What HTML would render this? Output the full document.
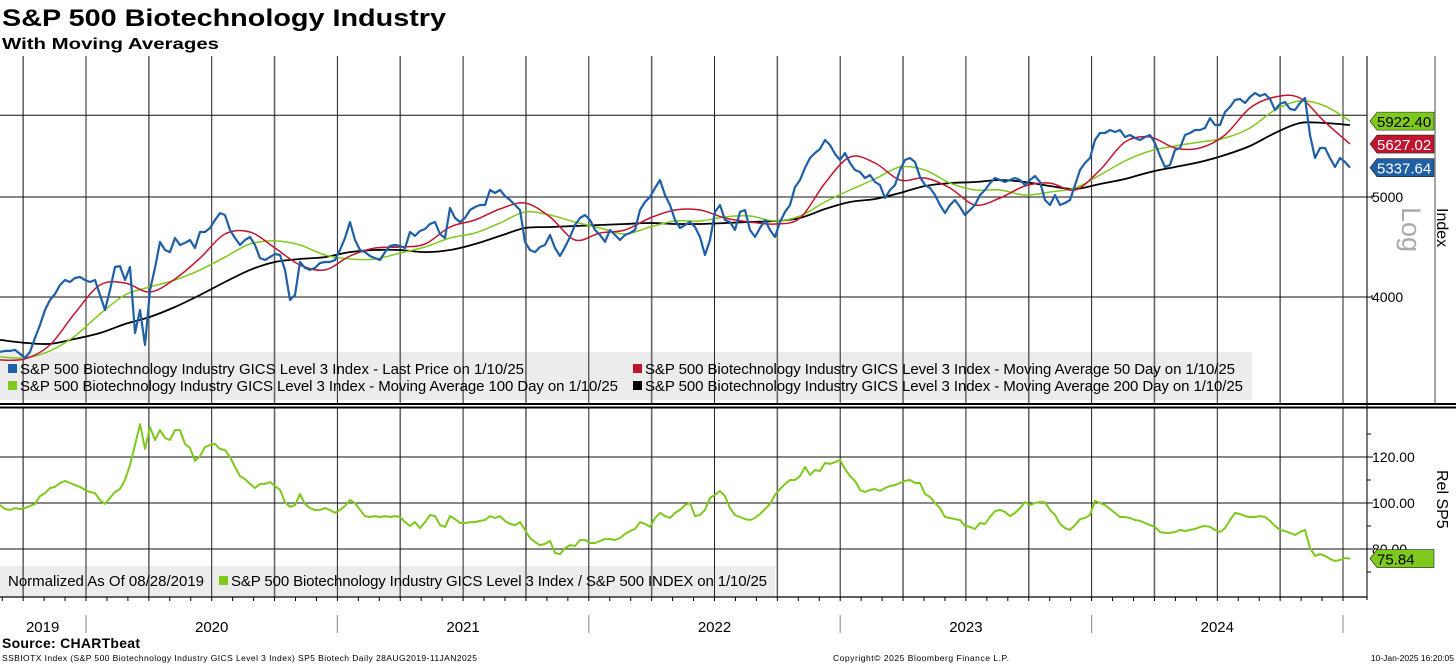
<!DOCTYPE html>
<html><head><meta charset="utf-8"><style>
html,body{margin:0;padding:0;background:#fff;}
svg{display:block;font-family:"Liberation Sans",Tahoma,sans-serif;}
</style></head><body>
<svg id="chart" width="1456" height="665" viewBox="0 0 1456 665" xmlns="http://www.w3.org/2000/svg">
<text x="2" y="26" font-size="24" font-weight="bold" fill="#000" textLength="444" lengthAdjust="spacingAndGlyphs">S&amp;P 500 Biotechnology Industry</text>
<text x="2" y="49" font-size="16" font-weight="bold" fill="#000" textLength="217" lengthAdjust="spacingAndGlyphs">With Moving Averages</text>
<rect x="0" y="352" width="1252" height="48" fill="#ececec"/>
<rect x="0" y="566" width="775" height="30" fill="#ececec"/>
<g id="grid"></g>
<g id="topPanel"></g>
<g id="botPanel"></g>
<g id="axes"></g>
<rect x="8" y="364" width="9" height="9" fill="#1f5fa6"/>
<text x="20" y="374" font-size="15" textLength="504">S&amp;P 500 Biotechnology Industry GICS Level 3 Index - Last Price on 1/10/25</text>
<rect x="633" y="364" width="9" height="9" fill="#c0152f"/>
<text x="645" y="374" font-size="15" textLength="590">S&amp;P 500 Biotechnology Industry GICS Level 3 Index - Moving Average 50 Day on 1/10/25</text>
<rect x="8" y="381" width="9" height="9" fill="#7ec91d"/>
<text x="20" y="391" font-size="15" textLength="598">S&amp;P 500 Biotechnology Industry GICS Level 3 Index - Moving Average 100 Day on 1/10/25</text>
<rect x="633" y="381" width="9" height="9" fill="#000"/>
<text x="645" y="391" font-size="15" textLength="598">S&amp;P 500 Biotechnology Industry GICS Level 3 Index - Moving Average 200 Day on 1/10/25</text>
<text x="8" y="586" font-size="15" textLength="196">Normalized As Of 08/28/2019</text>
<rect x="219" y="576" width="9" height="9" fill="#7ec91d"/>
<text x="231" y="586" font-size="15" textLength="536">S&amp;P 500 Biotechnology Industry GICS Level 3 Index / S&amp;P 500 INDEX on 1/10/25</text>
<g id="labels"></g>
<text x="2" y="648" font-size="14" font-weight="bold" textLength="138">Source: CHARTbeat</text>
<text x="2" y="661" font-size="8.5" textLength="475">SSBIOTX Index (S&amp;P 500 Biotechnology Industry GICS Level 3 Index) SP5 Biotech  Daily 28AUG2019-11JAN2025</text>
<text x="833" y="661" font-size="8.5" textLength="176">Copyright© 2025 Bloomberg Finance L.P.</text>
<text x="1454" y="661" font-size="8.5" text-anchor="end">10-Jan-2025 16:20:05</text>
</svg>
<script>
const price=[3539,3547,3547,3555,3523,3492,3539,3651,3758,3886,3973,4027,4109,4155,4136,4173,4183,4155,4136,4155,4018,3886,4063,4277,4286,4155,4277,3691,3886,3594,4063,4268,4523,4442,4422,4563,4492,4513,4543,4462,4624,4624,4666,4750,4824,4803,4645,4563,4492,4543,4573,4492,4363,4344,4373,4403,4393,4249,3973,4018,4325,4268,4249,4268,4315,4325,4325,4344,4442,4563,4729,4543,4442,4422,4383,4363,4344,4422,4482,4492,4482,4462,4624,4584,4635,4655,4708,4729,4604,4563,4879,4771,4729,4771,4857,4890,4911,4911,5079,5045,5079,5011,4967,4911,4857,4523,4442,4422,4472,4492,4594,4462,4383,4472,4573,4697,4771,4803,4750,4645,4594,4523,4645,4594,4543,4594,4614,4645,4857,4945,5000,5101,5193,5022,4911,4750,4666,4697,4729,4676,4573,4393,4543,4835,4911,4750,4729,4645,4835,4857,4645,4573,4666,4750,4645,4573,4729,4835,4911,5112,5193,5337,5454,5516,5565,5678,5615,5503,5430,5516,5394,5310,5286,5216,5251,5170,5135,4989,5079,5135,5310,5430,5454,5406,5228,5135,5101,5022,4911,4824,4911,4967,4890,4803,4857,4911,5022,5079,5158,5216,5193,5170,5193,5216,5193,5135,5193,5240,5170,4967,4911,5022,4911,4933,4967,5135,5310,5394,5454,5678,5768,5768,5806,5780,5806,5716,5742,5703,5678,5716,5742,5640,5479,5346,5370,5553,5578,5742,5768,5806,5806,5832,5963,5871,5871,6044,6112,6208,6222,6167,6250,6306,6264,6292,6222,6071,6153,6180,6085,6071,6167,6236,5742,5454,5578,5578,5454,5346,5454,5406,5337.64];
const ma50=[3476,3484,3594,3860,4109,4127,4045,4164,4363,4604,4624,4462,4296,4249,4383,4462,4472,4502,4676,4750,4868,4933,4782,4543,4614,4645,4771,4857,4857,4771,4729,4708,4771,5158,5467,5394,5193,5216,5101,4911,4989,5124,5158,5079,5310,5653,5716,5578,5578,5742,6098,6250,6236,5910,5627.02];
const ma100=[3500,3492,3547,3667,3851,4018,4091,4155,4249,4373,4502,4533,4492,4393,4354,4354,4412,4472,4563,4614,4718,4835,4803,4729,4666,4604,4676,4739,4739,4782,4792,4739,4792,4945,5079,5205,5346,5310,5158,5079,5079,5022,5056,5101,5251,5418,5541,5603,5653,5703,5832,6071,6194,6126,5922.40];
const ma200=[3635,3611,3603,3643,3691,3766,3826,3912,4018,4136,4249,4325,4354,4373,4422,4442,4442,4422,4442,4502,4584,4666,4676,4687,4697,4708,4718,4708,4708,4718,4729,4739,4771,4868,4945,4978,5045,5124,5158,5170,5193,5170,5124,5090,5147,5205,5286,5346,5406,5491,5603,5768,5897,5897,5871];
const rel=[99.1,97.4,97.0,97.8,97.4,97.8,98.7,99.6,103.0,104.3,106.5,107.0,108.7,109.6,108.7,107.8,107.0,105.7,104.8,104.3,101.3,99.6,102.2,104.8,106.1,110.0,116.5,125.2,134.3,123.5,133.0,127.4,131.7,128.3,127.4,131.7,131.7,125.7,123.9,118.3,120.4,124.3,125.2,125.7,123.5,123.0,120.0,115.7,111.7,110.4,108.3,106.5,108.3,108.3,109.1,107.4,105.7,100.4,98.3,99.1,103.9,99.6,97.8,97.0,97.0,97.8,97.0,95.7,97.0,98.7,101.3,100.0,97.0,94.3,93.9,94.3,93.9,94.3,93.9,94.3,93.9,91.7,90.0,91.7,89.1,91.7,94.8,94.3,90.4,89.6,94.3,93.0,91.3,91.3,91.7,91.7,92.2,92.6,94.3,93.5,94.3,92.2,90.9,90.4,91.7,88.3,84.8,83.0,81.7,82.2,83.5,78.3,77.8,80.4,81.7,81.3,83.9,83.9,82.6,82.6,83.5,84.3,84.3,83.9,84.8,86.5,87.8,88.7,91.7,90.9,89.6,93.5,95.7,94.3,93.5,95.7,97.0,99.1,100.0,94.3,94.8,97.0,102.2,103.5,105.2,103.0,97.8,94.8,93.9,93.0,92.6,93.5,95.2,97.4,99.6,103.5,106.1,108.3,110.0,110.0,111.7,115.7,112.2,114.3,113.9,117.4,117.0,117.8,118.7,114.8,111.7,109.6,105.7,104.8,105.7,106.1,105.2,106.5,107.4,107.8,108.7,109.6,110.0,108.7,108.7,103.9,102.6,100.0,97.8,93.9,93.5,93.0,92.6,90.0,89.6,88.7,91.3,90.9,93.9,96.5,97.0,96.1,94.3,95.7,97.8,100.4,99.1,100.0,100.4,100.4,97.0,94.8,90.9,89.1,88.3,90.4,93.0,93.5,94.8,100.9,100.0,99.1,97.4,95.7,93.9,93.9,93.5,92.6,92.2,91.3,90.4,89.6,87.4,87.0,87.0,87.4,88.3,87.8,88.3,88.7,89.6,90.0,89.6,88.3,87.4,89.1,92.6,95.7,95.2,94.3,93.9,93.9,94.3,93.9,92.2,90.0,88.3,87.8,87.0,86.1,87.4,88.3,80.4,77.0,77.8,77.0,75.7,74.8,75.2,76.1,75.84];
const years=["2019","2020","2021","2022","2023","2024"];
const yearStart=[2019.655,2020,2021,2022,2023,2024];
const priceTicks=[4000,5000,6000];
const relTicks=[80,100,120];

const NS="http://www.w3.org/2000/svg";
const X0=0,X1=1350;
const T0=2019.655,T1=2025.027;
const GTOP=56;
function xT(t){return 86+(t-2020)*251.4;}
function xIdx(i,n){return X0+(X1-X0)*i/(n-1);}
function yP(v){return 197-1032*Math.log10(v/5000);}
function yR(v){return 503-(v-100)*2.3;}
function mk(tag,attrs,parent){const e=document.createElementNS(NS,tag);for(const k in attrs)e.setAttribute(k,attrs[k]);parent.appendChild(e);return e;}
const gridG=document.getElementById('grid'),topG=document.getElementById('topPanel'),botG=document.getElementById('botPanel'),axesG=document.getElementById('axes'),labelsG=document.getElementById('labels');

for(let y=2019;y<=2024;y++){for(let q=0;q<4;q++){const t=y+q*0.25;if(t<T0||t>T1)continue;const x=xT(t);
 let l=mk('line',{x1:x,y1:GTOP,x2:x,y2:403,stroke:(q%2?'#666':'#222'),'stroke-width':(q%2?1.6:1)},gridG);
 
 
 let l2=mk('line',{x1:x,y1:408,x2:x,y2:597,stroke:(q%2?'#666':'#222'),'stroke-width':(q%2?1.6:1)},gridG);
 
 }}
{const x=xT(2025);let l=mk('line',{x1:x,y1:GTOP,x2:x,y2:403,stroke:'#222','stroke-width':1},gridG);
 
 
 let l2=mk('line',{x1:x,y1:408,x2:x,y2:597,stroke:'#222','stroke-width':1},gridG);
 
 }
priceTicks.forEach(v=>{const y=yP(v);let l=mk('line',{x1:0,y1:y,x2:1367,y2:y,stroke:'#111','stroke-width':1},gridG);
 
 });
relTicks.forEach(v=>{const y=yR(v);let l=mk('line',{x1:0,y1:y,x2:1367,y2:y,stroke:'#111','stroke-width':1},gridG);
 
 });

function smooth(pts){let d='M'+pts[0][0]+','+pts[0][1];for(let i=0;i<pts.length-1;i++){const p0=pts[Math.max(0,i-1)],p1=pts[i],p2=pts[i+1],p3=pts[Math.min(pts.length-1,i+2)];
 d+=' C'+(p1[0]+(p2[0]-p0[0])/6).toFixed(1)+','+(p1[1]+(p2[1]-p0[1])/6).toFixed(1)+' '+(p2[0]-(p3[0]-p1[0])/6).toFixed(1)+','+(p2[1]-(p3[1]-p1[1])/6).toFixed(1)+' '+p2[0].toFixed(1)+','+p2[1].toFixed(1);}return d;}
function linePath(arr,yf){return arr.map((v,i)=>(i?'L':'M')+xIdx(i,arr.length).toFixed(1)+','+yf(v).toFixed(1)).join(' ');}

let p200=mk('path',{d:smooth(ma200.map((v,i)=>[xIdx(i,ma200.length),yP(v)])),fill:'none',stroke:'#000','stroke-width':1.8},topG);


let p100=mk('path',{d:smooth(ma100.map((v,i)=>[xIdx(i,ma100.length),yP(v)])),fill:'none',stroke:'#7ec91d','stroke-width':1.5},topG);


let p50=mk('path',{d:smooth(ma50.map((v,i)=>[xIdx(i,ma50.length),yP(v)])),fill:'none',stroke:'#c0152f','stroke-width':1.5},topG);


let pp=mk('path',{d:linePath(price,yP),fill:'none',stroke:'#1f5fa6','stroke-width':2.2,'stroke-linejoin':'round'},topG);


let pr=mk('path',{d:linePath(rel,yR),fill:'none',stroke:'#7ec91d','stroke-width':2,'stroke-linejoin':'round'},botG);



[[1367,GTOP,1367,600,'#222',1.2],[1435,GTOP,1435,403,'#888',1.5],[0,404,1456,404,'#000',2],[0,407.5,1456,407.5,'#000',2],[0,597,1367,597,'#000',1.2]].forEach(a=>{let l=mk('line',{x1:a[0],y1:a[1],x2:a[2],y2:a[3],stroke:a[4],'stroke-width':a[5]},axesG);
 
 });
[4000,5000].forEach(v=>{const y=yP(v);let t=mk('text',{x:1372,y:y+5,'font-size':14},axesG);t.textContent=v;
 
 
 let a=mk('path',{d:`M1367,${y} l5,0 M1372,${y-2} l0,4`,stroke:'#000'},axesG);
 
 });
relTicks.forEach(v=>{const y=yR(v);let t=mk('text',{x:1372,y:y+5,'font-size':14},axesG);t.textContent=v.toFixed(2);
 
 
 let a=mk('line',{x1:1367,y1:y,x2:1373,y2:y,stroke:'#000'},axesG);
 
 });
[70,90,110,130].forEach(v=>{let a=mk('line',{x1:1367,y1:yR(v),x2:1371,y2:yR(v),stroke:'#000'},axesG);
 
 });
let lg=mk('text',{x:0,y:0,'font-size':27,fill:'#aaa',transform:'translate(1402,207) rotate(90)'},axesG);lg.textContent='Log';


let ix=mk('text',{x:0,y:0,'font-size':16,fill:'#000',transform:'translate(1437,208) rotate(90)'},axesG);ix.textContent='Index';


let rs=mk('text',{x:0,y:0,'font-size':16,fill:'#000',transform:'translate(1437,470) rotate(90)'},axesG);rs.textContent='Rel SP5';



for(let m=0;m<66;m++){const t=2019+(7+m)/12;if(t>T1)break;const x=xT(t);
 let tk=mk('line',{x1:x,y1:597,x2:x,y2:601,stroke:'#000'},axesG);
 
 }
years.forEach((yr,i)=>{const a=xT(yearStart[i]),b=Math.min(xT(+yr+1),1343);const t=mk('text',{x:(a+b)/2,y:632,'font-size':15,'text-anchor':'middle'},axesG);t.textContent=yr;
 
 
 const sx=xT(+yr+1);let s=mk('line',{x1:sx,y1:615,x2:sx,y2:633,stroke:'#999','stroke-width':1.2},axesG);
 
 });

function tag(v,y,color,txtColor,name){const g=mk('g',{},labelsG);
 
 
 mk('path',{d:`M1370,${y} l7,-9 h57 v18 h-57 z`,fill:color,stroke:'#222','stroke-width':0.6},g);
 const t=mk('text',{x:1377,y:y+6,'font-size':15,fill:txtColor},g);t.textContent=v;}
tag(ma100[ma100.length-1].toFixed(2),yP(ma100[ma100.length-1]),'#7ec91d','#000','ma100-value-tag');
tag(ma50[ma50.length-1].toFixed(2),yP(ma50[ma50.length-1]),'#c0152f','#fff','ma50-value-tag');
tag(price[price.length-1].toFixed(2),yP(price[price.length-1]),'#1f5fa6','#fff','last-price-value-tag');
tag(rel[rel.length-1].toFixed(2),yR(rel[rel.length-1]),'#7ec91d','#000','relative-value-tag');
</script>
</body></html>
